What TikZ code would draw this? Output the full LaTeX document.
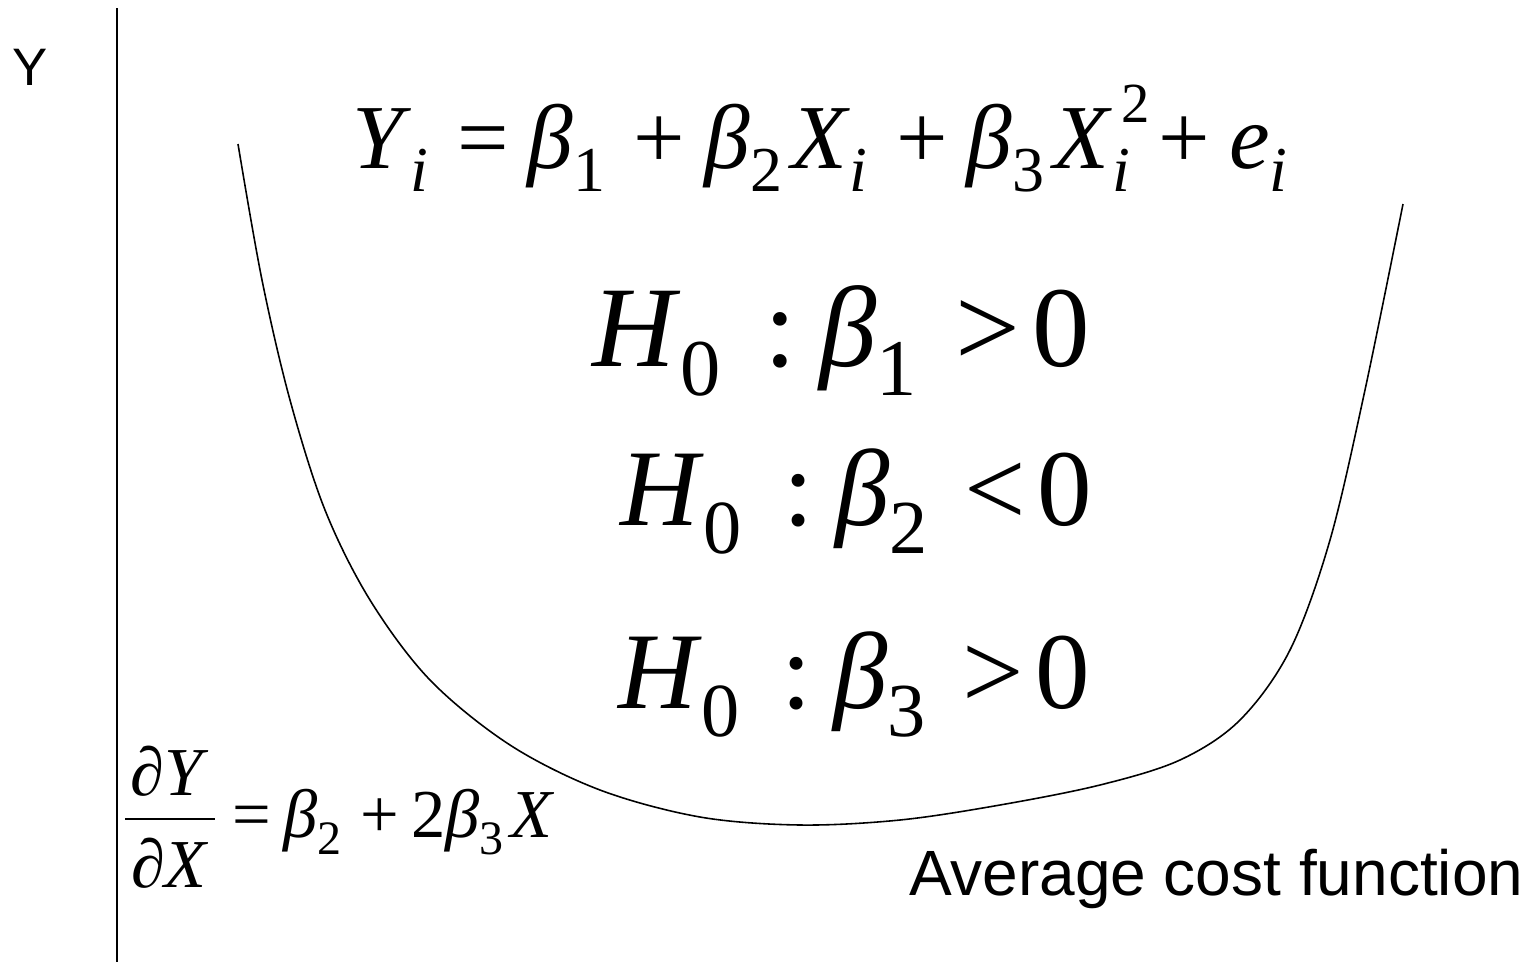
\documentclass[tikz,border=0pt]{standalone}
\usepackage{fontspec}
\usepackage{graphicx}
\usepackage{tikz}
\usetikzlibrary{positioning}
\setmainfont{Liberation Serif}
\newfontfamily\labelfont{Liberation Sans}
% sub- and superscripts in the style of the old equation editor
\newcommand{\lo}[1]{\raisebox{-0.26em}{\scalebox{0.7}{#1}}\hspace{0.1em}}
\newcommand{\lohi}[2]{\makebox[0pt][l]{\hspace{0.1em}\raisebox{0.5em}{\scalebox{0.62}{#2}}}\lo{#1}}
\newcommand{\bt}{\textit{β}}
\tikzset{
  eqtext/.style={inner sep=0pt, outer sep=0pt, anchor=base west},
  axistext/.style={eqtext, font=\labelfont\fontsize{15pt}{17pt}\selectfont},
  costtext/.style={eqtext, font=\labelfont\fontsize{18.2pt}{21pt}\selectfont},
  modeltext/.style={eqtext, font=\fontsize{26pt}{30pt}\selectfont},
  hyptext/.style={eqtext, font=\fontsize{31pt}{36pt}\selectfont},
  slopetext/.style={eqtext, font=\fontsize{19.5pt}{23pt}\selectfont},
  axisline/.style={line width=0.6pt},
  costcurve/.style={line width=0.45pt}
}
\newcommand{\mgap}{\hspace{0.21em}}
\newcommand{\hyp}[2]{\textit{H}\lo{0}\hspace{0.28em}:\hspace{0.2em}\bt\lo{#1}\hspace{0.24em}#2\hspace{0.1em}0}
\begin{document}
\begin{tikzpicture}[x=0.01cm, y=-0.01cm]
  \useasboundingbox (0,0) rectangle (1535,972);
  % axis
  \coordinate (axisTop) at (117,8);
  \coordinate (axisBot) at (117,962);
  \draw[axisline] (axisTop) -- (axisBot);
  \node[axistext] (yLabel) at (12,85) {Y};
  % average cost curve
  \draw[costcurve] plot[smooth, tension=0.55] coordinates {(238,144) (262,280) (290,400)
    (325,510) (370,600) (430,680) (510,745) (600,790) (700,817) (800,825) (900,820)
    (1000,805) (1100,785) (1180,760) (1240,720) (1290,650) (1330,540) (1365,390) (1403,204)};
  % model and hypotheses
  \node[modeltext] (modelEq) at (352,168) {\textit{Y}\lo{\textit{i}}\mgap=\mgap\bt\lo{1}\mgap+\mgap\bt\lo{2}\textit{X}\lo{\textit{i}}\mgap+\mgap\bt\lo{3}\textit{X}\lohi{\textit{i}}{2}\mgap+\mgap\textit{e}\lo{\textit{i}}};
  \node[hyptext, font=\fontsize{32.7pt}{38pt}\selectfont] (hypOne) at (592,366) {\hyp{1}{>}};
  \node[hyptext] (hypTwo) at (620,525) {\hyp{2}{<}};
  \node[hyptext] (hypThree) at (618,708) {\hyp{3}{>}};
  % slope of the curve
  \node[slopetext, anchor=base] (slopeNum) at (170,795) {\textit{∂Y}};
  \node[slopetext, anchor=base] (slopeDen) at (170,887) {\textit{∂X}};
  \draw[line width=0.45pt] (125,819) -- (215,819);
  \node[slopetext] (slopeEq) at (232,837) {=\hspace{0.18em}\bt\lo{2}\hspace{0.18em}+\hspace{0.18em}2\bt\lo{3}\textit{X}};
  \node[costtext] (costLabel) at (909,895) {Average cost function};
\end{tikzpicture}
\end{document}
